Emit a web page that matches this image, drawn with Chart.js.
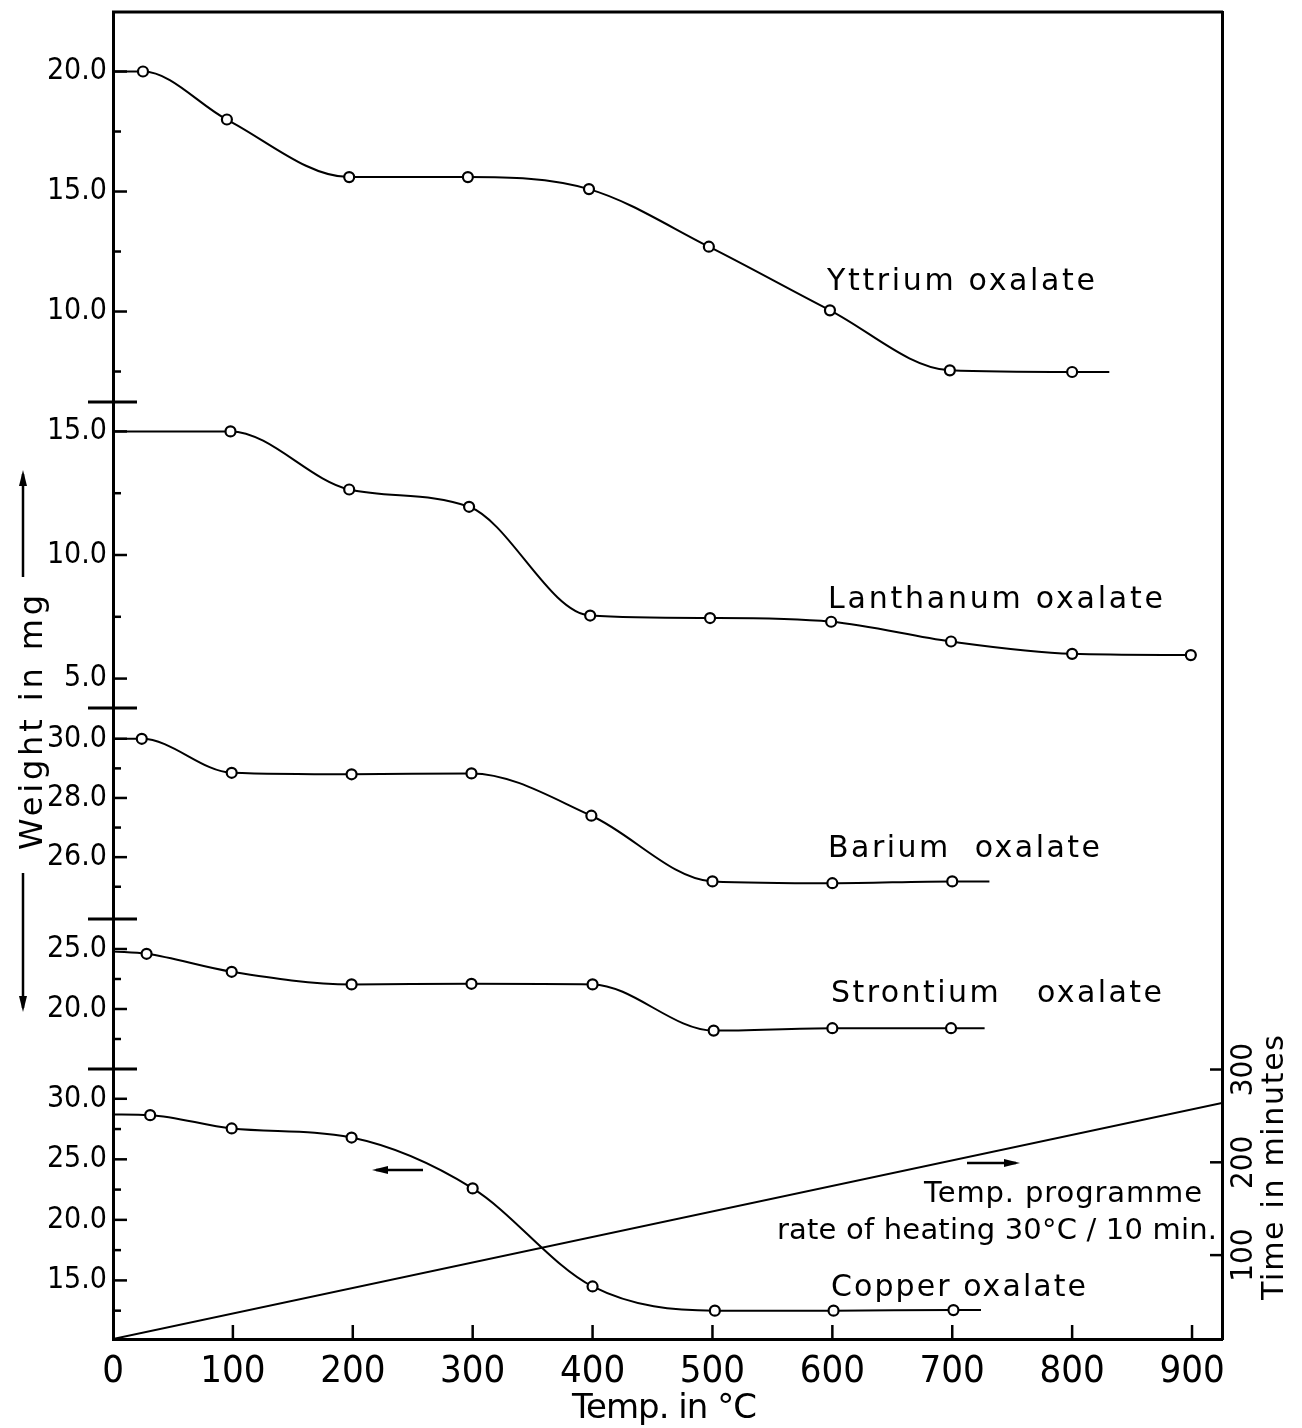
<!DOCTYPE html>
<html>
<head>
<meta charset="utf-8">
<script src="https://cdn.jsdelivr.net/npm/chart.js@4.4.1/dist/chart.umd.min.js"></script>
<style>
  html, body { margin: 0; padding: 0; background: #fff; }
</style>
</head>
<body>
<canvas id="tga" width="1302" height="1428"></canvas>
<script>
// temperatures in °C, weights in mg (first value = where the curve leaves the axis,
// last value of "trail" curves = end of the short dash after the last point)
var yttriumTemp = [0, 25, 95, 197, 296, 397, 497, 598, 698, 800, 831];
var yttriumWeight = [20.0, 20.0, 18.0, 15.6, 15.6, 15.1, 12.7, 10.05, 7.55, 7.48, 7.48];

var lanthanumTemp = [0, 98, 197, 297, 398, 498, 599, 699, 800, 899];
var lanthanumWeight = [15.0, 15.0, 12.65, 11.95, 7.55, 7.45, 7.3, 6.5, 6.0, 5.95];

var bariumTemp = [0, 24, 99, 199, 299, 399, 500, 600, 700, 731];
var bariumWeight = [30.0, 30.0, 28.85, 28.8, 28.83, 27.4, 25.18, 25.12, 25.18, 25.18];

var strontiumTemp = [0, 28, 99, 199, 299, 400, 501, 600, 699, 727];
var strontiumWeight = [24.8, 24.6, 23.1, 22.05, 22.1, 22.05, 18.2, 18.4, 18.4, 18.4];

var copperTemp = [0, 31, 99, 199, 300, 400, 502, 601, 701, 724];
var copperWeight = [28.7, 28.65, 27.55, 26.8, 22.6, 14.5, 12.5, 12.5, 12.55, 12.55];

// temperature programme line (time axis on the right)
var programmeTemp = [0, 925];
var programmeMinutes = [9.6, 264];

// axis ticks
var xTicks = [0, 100, 200, 300, 400, 500, 600, 700, 800, 900];
var timeTicks = [100, 200, 300];
var yttriumTicks = [7.5, 10, 12.5, 15, 17.5, 20];
var yttriumLabels = [10, 15, 20];
var lanthanumTicks = [5, 7.5, 10, 12.5, 15];
var lanthanumLabels = [5, 10, 15];
var bariumTicks = [25, 26, 27, 28, 29, 30];
var bariumLabels = [26, 28, 30];
var strontiumTicks = [17.5, 20, 22.5, 25];
var strontiumLabels = [20, 25];
var copperTicks = [12.5, 15, 17.5, 20, 22.5, 25, 27.5, 30];
var copperLabels = [15, 20, 25, 30];

var numFont = '"Liberation Sans Narrow", "DejaVu Sans Condensed", "Roboto", sans-serif';
var textFont = '"DejaVu Sans", sans-serif';

var series = [
  { id: 'yY', temp: yttriumTemp, weight: yttriumWeight, trail: true },
  { id: 'yL', temp: lanthanumTemp, weight: lanthanumWeight, trail: false },
  { id: 'yB', temp: bariumTemp, weight: bariumWeight, trail: true },
  { id: 'yS', temp: strontiumTemp, weight: strontiumWeight, trail: true },
  { id: 'yC', temp: copperTemp, weight: copperWeight, trail: true }
];

var datasets = series.map(function (s) {
  var n = s.temp.length;
  return {
    data: s.temp.map(function (t, i) { return { x: t, y: s.weight[i] }; }),
    yAxisID: s.id,
    borderColor: '#000',
    borderWidth: 2,
    cubicInterpolationMode: 'monotone',
    pointRadius: s.temp.map(function (t, i) { return (i === 0 || (s.trail && i === n - 1)) ? 0 : 5; }),
    pointBorderWidth: 2.2,
    pointBorderColor: '#000',
    pointBackgroundColor: '#fff'
  };
});
datasets.push({
  data: programmeTemp.map(function (t, i) { return { x: t, y: programmeMinutes[i] }; }),
  yAxisID: 'yT',
  borderColor: '#000',
  borderWidth: 2,
  tension: 0,
  pointRadius: 0
});

function noPad(s) {
  s.paddingTop = 0; s.paddingBottom = 0;
}

function panelAxis(min, max, height, order, ticks, labels) {
  return {
    type: 'linear', position: 'left', stack: 'weight', stackWeight: height, weight: order,
    min: min, max: max,
    grid: { display: false, drawTicks: false },
    border: { display: true, color: '#000', width: 3 },
    afterBuildTicks: function (s) { s.ticks = ticks.map(function (v) { return { value: v }; }); },
    afterFit: function (s) { s.width = 113; noPad(s); },
    ticks: {
      autoSkip: false, padding: 6, color: '#000',
      font: { family: numFont, size: 30 },
      callback: function (v) { return labels.indexOf(v) >= 0 ? v.toFixed(1) : ''; }
    }
  };
}

var panels = [
  { id: 'yY', ticks: yttriumTicks, labels: yttriumLabels },
  { id: 'yL', ticks: lanthanumTicks, labels: lanthanumLabels },
  { id: 'yB', ticks: bariumTicks, labels: bariumLabels },
  { id: 'yS', ticks: strontiumTicks, labels: strontiumLabels },
  { id: 'yC', ticks: copperTicks, labels: copperLabels }
];

function line(ctx, x1, y1, x2, y2) {
  ctx.beginPath(); ctx.moveTo(x1, y1); ctx.lineTo(x2, y2); ctx.stroke();
}

function spaced(ctx, text, x, y, width, size) {
  ctx.font = size + 'px ' + textFont;
  ctx.letterSpacing = '0px';
  var w = ctx.measureText(text).width;
  ctx.letterSpacing = ((width - w) / (text.length - 1)) + 'px';
  ctx.fillText(text, x, y);
  ctx.letterSpacing = '0px';
}

function arrow(ctx, x1, y1, x2, y2) {
  line(ctx, x1, y1, x2, y2);
  var a = Math.atan2(y2 - y1, x2 - x1);
  ctx.beginPath();
  ctx.moveTo(x2 + 4 * Math.cos(a), y2 + 4 * Math.sin(a));
  ctx.lineTo(x2 - 12 * Math.cos(a) + 4 * Math.sin(a), y2 - 12 * Math.sin(a) - 4 * Math.cos(a));
  ctx.lineTo(x2 - 12 * Math.cos(a) - 4 * Math.sin(a), y2 - 12 * Math.sin(a) + 4 * Math.cos(a));
  ctx.closePath(); ctx.fill();
}

var notes = [
  ['Yttrium oxalate', 827, 290, 268, 30],
  ['Lanthanum oxalate', 828, 608, 335, 30],
  ['Barium  oxalate', 828, 857, 272, 30],
  ['Strontium   oxalate', 831, 1002, 331, 30],
  ['Copper oxalate', 831, 1296, 255, 30],
  ['Temp. programme', 924, 1202, 278, 29],
  ['rate of heating 30°C / 10 min.', 777, 1239, 440, 29]
];

var decor = {
  id: 'decor',
  afterDraw: function (chart) {
    var ctx = chart.ctx, a = chart.chartArea;
    ctx.save();
    ctx.strokeStyle = '#000'; ctx.fillStyle = '#000';
    ctx.lineWidth = 3;
    line(ctx, a.left - 1, a.top, a.right + 1, a.top);

    panels.forEach(function (p, i) {
      var s = chart.scales[p.id];
      ctx.lineWidth = 2.5;
      p.ticks.forEach(function (v) {
        var y = s.getPixelForValue(v);
        line(ctx, a.left, y, a.left + (p.labels.indexOf(v) >= 0 ? 14 : 8), y);
      });
      if (i > 0) { ctx.lineWidth = 3; line(ctx, a.left - 25, s.top, a.left + 24, s.top); }
    });

    var sx = chart.scales.x;
    ctx.lineWidth = 2.5;
    xTicks.forEach(function (v) {
      if (v === 0) return;
      var x = sx.getPixelForValue(v);
      line(ctx, x, a.bottom, x, a.bottom - 14);
    });

    var st = chart.scales.yT;
    timeTicks.forEach(function (v) {
      var y = st.getPixelForValue(v);
      line(ctx, a.right, y, a.right - 12, y);
      ctx.save();
      ctx.translate(a.right + 22, y);
      ctx.rotate(-Math.PI / 2);
      ctx.font = '31px ' + numFont;
      ctx.textAlign = 'center'; ctx.textBaseline = 'middle';
      ctx.fillText(String(v), 0, 0);
      ctx.restore();
    });

    ctx.textAlign = 'left'; ctx.textBaseline = 'alphabetic';
    notes.forEach(function (n) { spaced(ctx, n[0], n[1], n[2], n[3], n[4]); });

    // x axis title
    spaced(ctx, 'Temp. in °C', 572, 1418, 185, 34);

    // rotated weight title with arrows
    ctx.save();
    ctx.translate(42, 850);
    ctx.rotate(-Math.PI / 2);
    spaced(ctx, 'Weight in mg', 0, 0, 255, 32);
    ctx.restore();
    ctx.lineWidth = 2.5;
    arrow(ctx, 23, 577, 23, 474);
    arrow(ctx, 23, 873, 23, 1008);

    // rotated time title
    ctx.save();
    ctx.translate(1283, 1300);
    ctx.rotate(-Math.PI / 2);
    spaced(ctx, 'Time in minutes', 0, 0, 265, 30);
    ctx.restore();

    // direction arrows
    ctx.lineWidth = 2.5;
    arrow(ctx, 423, 1170, 376, 1170);
    arrow(ctx, 967, 1163, 1016, 1163);
    ctx.restore();
  }
};

var scales = {
  x: {
    type: 'linear', position: 'bottom', min: 0, max: 925,
    grid: { display: false, drawTicks: false },
    border: { display: true, color: '#000', width: 3 },
    afterBuildTicks: function (s) { s.ticks = xTicks.map(function (v) { return { value: v }; }); },
    afterFit: function (s) { s.height = 89; },
    ticks: { autoSkip: false, maxRotation: 0, padding: 10, color: '#000', font: { family: numFont, size: 38 } }
  },
  yT: {
    type: 'linear', position: 'right', min: 9.6, max: 1439.6,
    grid: { display: false, drawTicks: false },
    border: { display: true, color: '#000', width: 3 },
    ticks: { display: false },
    afterFit: function (s) { s.width = 80; noPad(s); }
  },
  yY: panelAxis(6.23, 22.48, 390, 5, yttriumTicks, yttriumLabels),
  yL: panelAxis(3.81, 16.19, 306, 4, lanthanumTicks, lanthanumLabels),
  yB: panelAxis(23.91, 31.04, 211, 3, bariumTicks, bariumLabels),
  yS: panelAxis(15, 27.5, 150, 2, strontiumTicks, strontiumLabels),
  yC: panelAxis(10.16, 32.46, 270, 1, copperTicks, copperLabels)
};

new Chart(document.getElementById('tga'), {
  type: 'line',
  data: { datasets: datasets },
  options: {
    responsive: false,
    animation: false,
    devicePixelRatio: 1,
    layout: { padding: { top: 12, left: 0, right: 0, bottom: 0 } },
    plugins: { legend: { display: false }, tooltip: { enabled: false } },
    scales: scales
  },
  plugins: [decor]
});
</script>
</body>
</html>
